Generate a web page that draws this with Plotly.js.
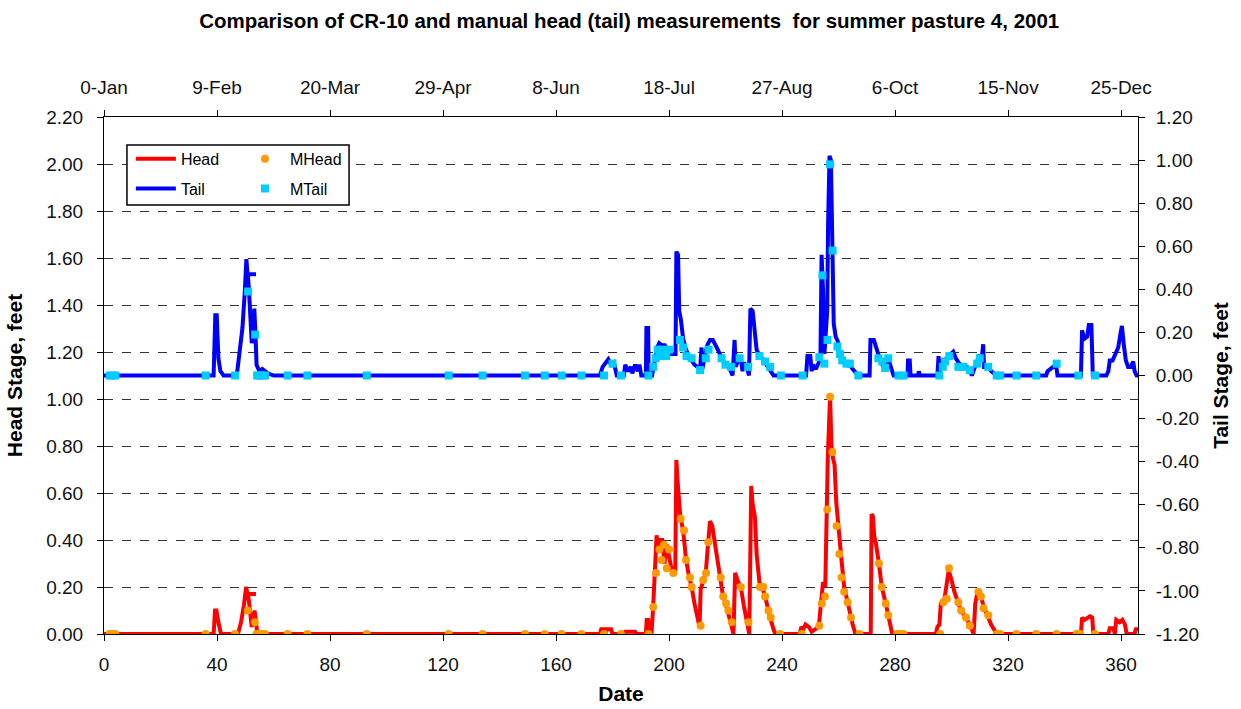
<!DOCTYPE html>
<html>
<head>
<meta charset="utf-8">
<script src="https://cdn.plot.ly/plotly-3.0.1.min.js"></script>
<style>html,body{margin:0;padding:0;background:#fff;}#chart{width:1241px;height:709px;}</style>
</head>
<body>
<div id="chart"></div>
<script>
// ---- Data (day of year) ----
const headDays = [0,38.8,39.3,39.8,40.5,41.4,47.4,48.5,49.5,50.3,50.8,53.8,50.9,51.3,51.8,52.3,52.8,53.3,53.7,54.3,
  175.5,176,177,177.5,178,179.5,180,184,184.5,188,188.5,191.8,192.1,192.6,193,193.8,194.4,195,195.6,196.3,196.8,197.6,198.4,199.2,200,201,202.2,202.6,203.2,204,205,206,207,208,209,210,210.8,211.2,212.1,213,213.8,214.5,215.3,216,217,218,219,220,221,222,222.8,223.4,224.2,225.4,226.5,227.5,228.4,229.1,229.6,230.4,231,232,233,234,235,236,237,237.6,
  246.3,246.8,247.5,248.3,249.5,250.5,253,253.8,254.5,255.3,255.6,256.2,257,257.5,258,258.6,259.2,260,261,262,263,264,265,266,
  271.4,271.7,272.2,272.6,273.3,274.3,275.3,276.7,277.6,278.3,279,
  294.5,295,295.7,296.2,297.5,299,300,301,302.4,303.4,305,306.5,307.8,308.4,309.4,310.4,311.3,312.5,314,315,316,
  345.8,346.2,347,348,349,349.8,350.2,355.5,356,357.3,357.8,358.3,359.5,360.5,361.4,362,364.8,365.2,366];
const headVals = [0,0,0.10,0.10,0.05,0,0,0.05,0.12,0.20,0.17,0.17,0.17,0.14,0.08,0.03,0.06,0.10,0.06,0,
  0,0.02,0.02,0,0.02,0.02,0,0,0.01,0.01,0,0,0.06,0.06,0,0,0.12,0.30,0.42,0.36,0.40,0.40,0.30,0.38,0.32,0.27,0.26,0.74,0.62,0.50,0.44,0.32,0.25,0.20,0.13,0.08,0.03,0.19,0.22,0.26,0.38,0.48,0.46,0.40,0.32,0.25,0.17,0.13,0.09,0.04,0,0.26,0.23,0.20,0.12,0.05,0,0.63,0.55,0.50,0.34,0.22,0.20,0.16,0.10,0.06,0.02,0,
  0,0.03,0.02,0.04,0.03,0.01,0.03,0.12,0.22,0.20,0.50,0.75,1.01,0.80,0.75,0.72,0.56,0.44,0.32,0.20,0.14,0.09,0.04,0,
  0,0.51,0.50,0.42,0.38,0.30,0.20,0.13,0.08,0.03,0,
  0,0.03,0.04,0.13,0.15,0.27,0.23,0.18,0.13,0.10,0.07,0.04,0,0.13,0.19,0.16,0.12,0.08,0.04,0.02,0,
  0,0.07,0.06,0.07,0.075,0.07,0,0,0.025,0.025,0,0.06,0.05,0.06,0.04,0,0,0.02,0.02];

const tailDays = [0,38.8,39.4,39.9,40.5,41.2,41.8,42.3,47,48,49,49.8,50.4,50.8,53.8,50.9,51.3,51.8,52.3,52.8,53.2,53.6,54,55,56,57,58,60,
  175.5,176.5,177.5,178.5,179.5,180.5,181.5,184,184.5,185.5,186.5,187,188,189,189.5,190.2,191.8,192,192.6,192.8,194,195,195.8,196.5,197.5,198.5,199.5,200.5,201.5,202.3,202.6,203.2,203.6,204.2,205,206,207,208,209,210,211,211.5,211.8,212.5,213.5,214.5,215.5,216.5,217.5,218.5,219.5,220.5,221.5,222.5,223.2,223.6,224.5,225.5,226,226.5,227.5,228.3,228.8,229.6,230.3,231,232,233,234,235,236,237,
  248.5,249,250,250.5,251,252,253,253.6,254,254.5,255,255.6,256,256.3,256.8,257.3,257.6,258,258.3,259,259.7,260.5,261.3,262.8,264,265,266.5,267,
  271,271.3,272.5,273.5,274.1,275,276,277,278,279,279.5,284.4,284.6,285.2,285.5,288.2,288.4,288.8,
  295,295.4,295.8,296.5,297.5,299,300.6,301.5,302.5,304,305.5,306.5,307.2,308,309,309.8,310.8,311.2,311.5,313,314,315,316,
  333.5,334,335.5,337,337.5,345.8,346.2,347,348,348.6,349.5,350,354.8,355.5,356,357,358,359,359.8,360.3,361,361.7,362.5,363.5,364.3,364.8,365.5,366];
const tailVals = [0,0,0.28,0.28,0.08,0.02,0.01,0,0,0.10,0.22,0.38,0.54,0.47,0.47,0.47,0.40,0.30,0.15,0.20,0.31,0.20,0.05,0.02,0.03,0.02,0.01,0,
  0,0.04,0.06,0.075,0.05,0.06,0,0,0.05,0.02,0.04,0.01,0.05,0.02,0.05,0,0,0.22,0.22,0,0,0.08,0.13,0.15,0.14,0.14,0.12,0.10,0.10,0.10,0.575,0.56,0.30,0.26,0.17,0.12,0.09,0.07,0.05,0.04,0.03,0.13,0.03,0.08,0.14,0.165,0.165,0.14,0.11,0.09,0.06,0.05,0.03,0,0.165,0.04,0.07,0.075,0.02,0.06,0.04,0,0.31,0.30,0.18,0.12,0.09,0.08,0.06,0.04,0.02,0,
  0,0.09,0.09,0.02,0.05,0.03,0.06,0.08,0.56,0.40,0.10,0.26,0.30,0.70,1.02,1.00,0.80,0.50,0.24,0.18,0.16,0.10,0.07,0.055,0.05,0.03,0.01,0,
  0,0.165,0.165,0.12,0.09,0.06,0.04,0.07,0.06,0.01,0,0,0.07,0.07,0,0,0.02,0,
  0,0.09,0.02,0.04,0.07,0.09,0.11,0.08,0.06,0.04,0.04,0.02,0,0.03,0.06,0.09,0.09,0.145,0.04,0.04,0.02,0.01,0,
  0,0.02,0.035,0.05,0,0,0.21,0.17,0.18,0.235,0.235,0,0,0.02,0.07,0.07,0.10,0.13,0.195,0.23,0.14,0.07,0.04,0.04,0.065,0.02,0,0];

const mheadDays = [2,3,4,36,46.4,50.9,53.4,54,55,56,57,65,72,93,122,134,149,156,162,169,177,183,192.7,194.4,195.4,196.6,197.4,198.2,199.2,200,201.5,204.1,205.3,206,207.4,208,211.2,212.1,213.1,213.9,218.3,219.2,220.2,221,222.2,225.4,228.1,232.2,233.4,234,235.2,236,239.3,247,253.2,254.1,255.2,256,257,257.8,259.3,260.3,261.1,262,263.2,264.4,267.4,274.3,275.3,276.7,277.6,280.6,281.5,283,296,297.1,298.3,299.1,302.4,303.4,305.1,306.5,309.5,310.4,311.3,313,316,317.2,323,330,337.2,344.3,345.5,350.8];
const mheadVals = [0,0,0,0,0,0.10,0.05,0,0,0,0,0,0,0,0,0,0,0,0,0,0,0,0,0.115,0.26,0.36,0.315,0.38,0.28,0.36,0.26,0.49,0.44,0.315,0.24,0.20,0.035,0.23,0.26,0.39,0.24,0.16,0.13,0.10,0.05,0.20,0.05,0.20,0.20,0.16,0.10,0.07,0,0,0.035,0.13,0.16,0.53,1.01,0.775,0.46,0.34,0.24,0.18,0.135,0.07,0,0.30,0.20,0.13,0.08,0,0,0,0,0.135,0.15,0.28,0.135,0.10,0.07,0.035,0.18,0.16,0.11,0.08,0,0,0,0,0,0,0,0];

const mtailDays = [2,3,4,36,46.4,51,53.5,54.2,55,56,57,65,72,93,122,134,149,156,162,169,177,180,183,192.7,194.4,195.3,196,196.8,197.5,198.3,199,200,203.9,205,206.2,208,211,213,214,218.6,220,222,225,228,232,234,235.8,239.6,247.3,253.2,254.3,255,256.1,257,257.9,259.6,260.5,261.3,262.8,264,267,274.1,275.5,276.5,277.6,281.2,283,295.7,296.9,297.7,299.2,302.4,304.2,306.5,309.1,310,313,316,317.2,323,330,337.2,344.9,350.8];
const mtailVals = [0,0,0,0,0,0.39,0.19,0,0,0,0,0,0,0,0,0,0,0,0,0,0,0.055,0,0,0.04,0.08,0.12,0.09,0.12,0.10,0.09,0.12,0.165,0.13,0.09,0.08,0.025,0.08,0.12,0.08,0.05,0.04,0.08,0.04,0.09,0.065,0.04,0,0,0.085,0.465,0.055,0.165,0.98,0.58,0.135,0.10,0.07,0.055,0.055,0,0.08,0.065,0.035,0.08,0,0,0,0.04,0.065,0.09,0.04,0.04,0.025,0.055,0.08,0.04,0,0,0,0,0.055,0,0];

const xTickVals = [0,40,80,120,160,200,240,280,320,360];
const topTickText = ['0-Jan','9-Feb','20-Mar','29-Apr','8-Jun','18-Jul','27-Aug','6-Oct','15-Nov','25-Dec'];
const y2TickVals = [-1.2,-1.0,-0.8,-0.6,-0.4,-0.2,0,0.2,0.4,0.6,0.8,1.0,1.2];
const y2TickText = ['-1.20','-1.00','-0.80','-0.60','-0.40','-0.20','0.00','0.20','0.40','0.60','0.80','1.00','1.20'];

const FONT = 'Arial, "Liberation Sans", sans-serif';
const tickFont = {family: FONT, size: 19, color: '#111'};
const axTitleFont = {family: FONT, size: 21, color: '#000', weight: 'bold'};

const traces = [
  {x: headDays, y: headVals, name: 'Head', type: 'scatter', mode: 'lines',
   line: {color: '#FF0000', width: 4}, xaxis: 'x', yaxis: 'y', legend: 'legend', legendgroup: 'g1'},
  {x: mheadDays, y: mheadVals, name: 'MHead', type: 'scatter', mode: 'markers',
   marker: {color: '#FF9900', size: 8, symbol: 'circle'}, xaxis: 'x', yaxis: 'y', legend: 'legend2', legendgroup: 'g3'},
  {x: tailDays, y: tailVals, name: 'Tail', type: 'scatter', mode: 'lines',
   line: {color: '#0000FF', width: 4}, xaxis: 'x2', yaxis: 'y2', legend: 'legend', legendgroup: 'g2'},
  {x: mtailDays, y: mtailVals, name: 'MTail', type: 'scatter', mode: 'markers',
   marker: {color: '#00CCFF', size: 8, symbol: 'square'}, xaxis: 'x2', yaxis: 'y2', legend: 'legend2', legendgroup: 'g4'}
];

const layout = {
  width: 1241, height: 709,
  margin: {l: 104, r: 103, t: 117, b: 75, pad: 0},
  paper_bgcolor: '#fff', plot_bgcolor: '#fff',
  font: {family: FONT, color: '#000'},
  title: {text: 'Comparison of CR-10 and manual head (tail) measurements  for summer pasture 4, 2001',
          font: {family: FONT, size: 20.5, color: '#000', weight: 'bold'},
          x: 0.507, xanchor: 'center', y: 0.971, yanchor: 'middle'},
  showlegend: true,
  xaxis: {range: [0, 366], tickvals: xTickVals, ticks: 'outside', ticklen: 6, tickcolor: '#000',
          showline: true, linecolor: '#000', linewidth: 1, showgrid: false, zeroline: false,
          tickfont: tickFont, ticklabelstandoff: 7,
          title: {text: 'Date', font: axTitleFont, standoff: 12}},
  xaxis2: {range: [0, 366], overlaying: 'x', anchor: 'y2', side: 'top', tickvals: xTickVals, ticktext: topTickText,
           ticks: 'outside', ticklen: 6, tickcolor: '#000', showline: true, linecolor: '#000', linewidth: 1,
           showgrid: false, zeroline: false, tickfont: tickFont, ticklabelstandoff: 8},
  yaxis: {range: [0, 2.2], tick0: 0, dtick: 0.2, tickformat: '.2f', ticks: 'outside', ticklen: 6, tickcolor: '#000',
          showline: true, linecolor: '#000', linewidth: 1, zeroline: false,
          showgrid: true, gridcolor: '#333', griddash: 'dash', gridwidth: 1,
          tickfont: tickFont, ticklabelstandoff: 10,
          title: {text: 'Head Stage, feet', font: axTitleFont, standoff: 17}},
  yaxis2: {range: [-1.2, 1.2], overlaying: 'y', anchor: 'x2', side: 'right', tickvals: y2TickVals, ticktext: y2TickText,
           ticks: 'outside', ticklen: 6, tickcolor: '#000', showline: true, linecolor: '#000', linewidth: 1,
           showgrid: false, zeroline: false, tickfont: tickFont, ticklabelstandoff: 7,
           title: {text: 'Tail Stage, feet', font: axTitleFont, standoff: 15}},
  legend: {x: 0.026, y: 0.952, xanchor: 'left', yanchor: 'top', bgcolor: 'rgba(0,0,0,0)', borderwidth: 0,
           font: {family: FONT, size: 16, color: '#000'}, tracegroupgap: 6, itemwidth: 40},
  legend2: {x: 0.1315, y: 0.952, xanchor: 'left', yanchor: 'top', bgcolor: 'rgba(0,0,0,0)', borderwidth: 0,
            font: {family: FONT, size: 16, color: '#000'}, tracegroupgap: 6, itemwidth: 40},
  shapes: [{type: 'rect', xref: 'paper', yref: 'paper', x0: 0.0222, x1: 0.237, y0: 0.830, y1: 0.946,
            line: {color: '#000', width: 1.5}, fillcolor: '#fff', layer: 'above'}]
};

Plotly.newPlot('chart', traces, layout, {displayModeBar: false, staticPlot: true});
</script>
</body>
</html>
